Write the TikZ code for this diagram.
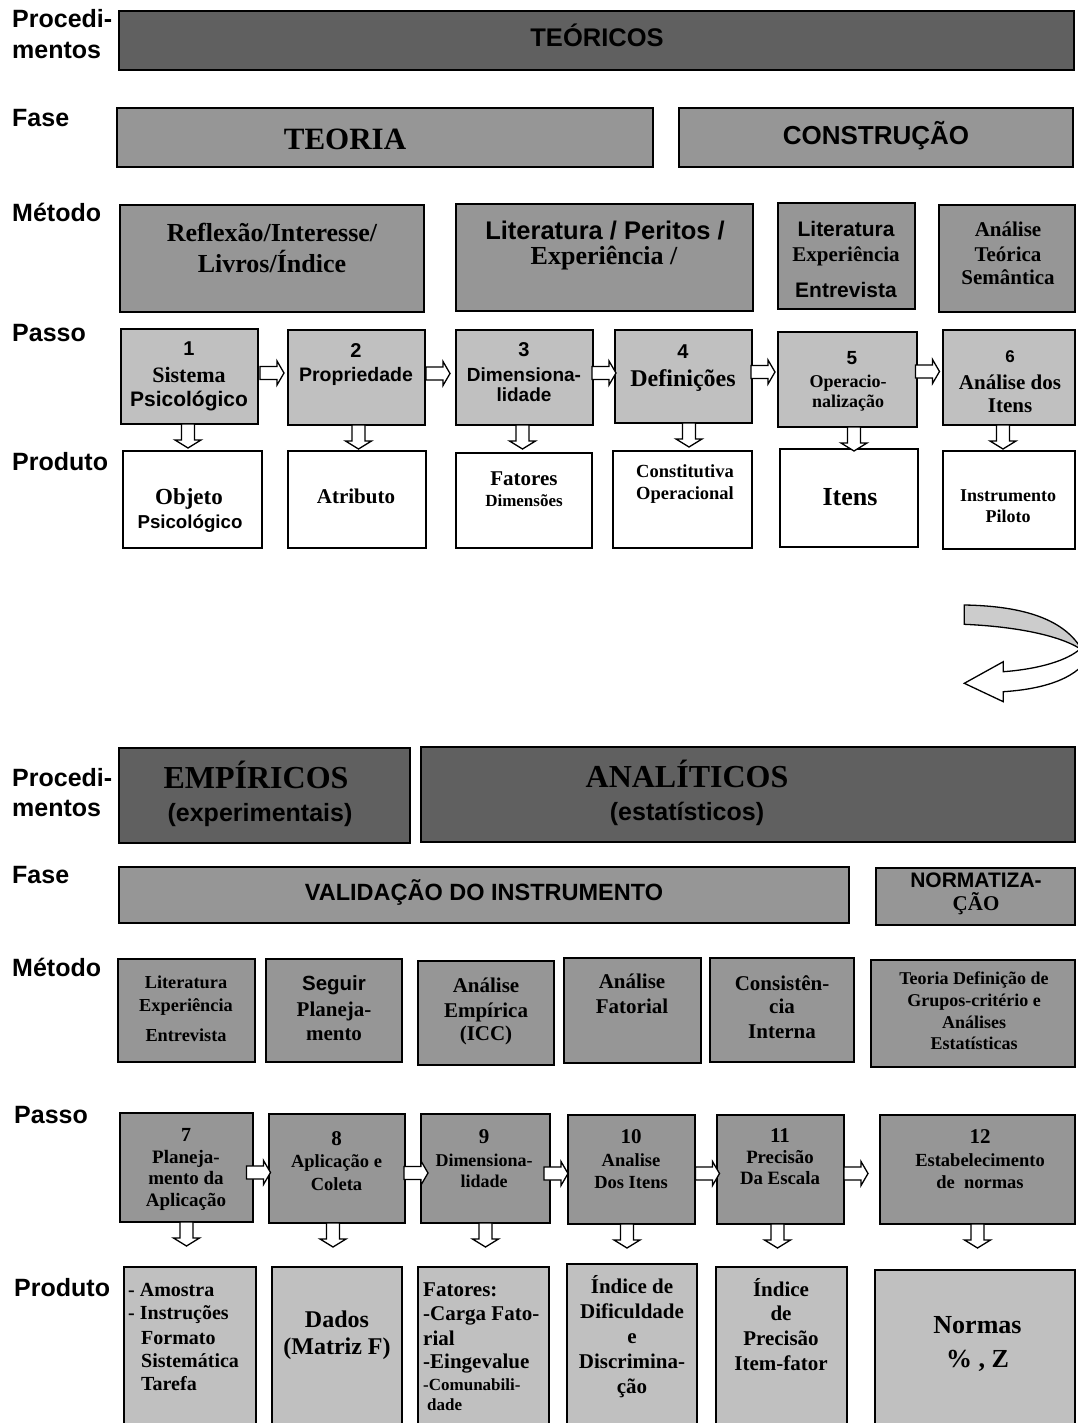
\documentclass[tikz,border=0pt]{standalone}
\usepackage{fontspec}
\setmainfont{Liberation Serif}
\setsansfont{Liberation Sans}
\usetikzlibrary{calc}
\definecolor{dk}{RGB}{96,96,96}
\definecolor{md}{RGB}{150,150,150}
\definecolor{lt}{RGB}{192,192,192}
\definecolor{cg}{RGB}{204,204,204}
\newcounter{tl}
% centred line: family, size, x, visual centre y, text
\newcommand\T[5]{\stepcounter{tl}\node[anchor=base,inner sep=0pt,font=\fontsize{#2}{#2}\selectfont#1\bfseries] (t\thetl) at (#3,{#4+0.34*#2}) {#5};}
% left aligned line: family, size, x, visual centre y, text
\newcommand\TL[5]{\stepcounter{tl}\node[anchor=base west,inner sep=0pt,font=\fontsize{#2}{#2}\selectfont#1\bfseries] (t\thetl) at (#3,{#4+0.34*#2}) {#5};}
% row label: x, baseline y, text
\newcommand\LB[3]{\stepcounter{tl}\node[anchor=base west,inner sep=0pt,font=\fontsize{25}{25}\selectfont\sffamily\bfseries] (t\thetl) at (#1,#2) {#3};}
% box: style, name, x1, y1, x2, y2
\newcommand\B[6]{\node[#1,anchor=north west,minimum width={#5-#3},minimum height={#6-#4}] (#2) at (#3,#4) {};}
% right block arrow centred between two boxes
\newcommand\RA[5]{\coordinate (#1) at ($(#2.east)!.5!(#3.west)+(#4,#5)$);
  \draw[blk] ([shift={(-12,-6.5)}]#1) -- ++(17,0) -- ++(0,-5.5) -- ++(7,12) -- ++(-7,12)
    -- ++(0,-5.5) -- ++(-17,0) -- cycle;}
% down block arrow hanging under a box
\newcommand\DA[3]{\coordinate (#1) at ($(#2.south)+(#3,0)$);
  \draw[blk] ([shift={(-6.5,0)}]#1) -- ++(13,0) -- ++(0,16) -- ++(6.5,0) -- ++(-13,8)
    -- ++(-13,-8) -- ++(6.5,0) -- cycle;}
\tikzset{
  boxbase/.style={draw=black,line width=1.8pt,inner sep=0pt,outer sep=0pt,rectangle},
  dkbox/.style={boxbase,fill=dk},
  mdbox/.style={boxbase,fill=md},
  ltbox/.style={boxbase,fill=lt},
  whbox/.style={boxbase,fill=white},
  blk/.style={draw=black,fill=white,line width=1.3pt,line join=miter},
}
\begin{document}
\begin{tikzpicture}[x=1pt,y=-1pt]
\useasboundingbox (0,0) rectangle (1077,1423);
\fill[white] (0,0) rectangle (1077,1423);

% ---------------- upper half ----------------
\LB{12}{27.7}{Procedi-}
\LB{12}{58.3}{mentos}
\LB{12}{126.7}{Fase}
\LB{12}{221.7}{Método}
\LB{12}{341.7}{Passo}
\LB{12}{470}{Produto}

\B{dkbox}{p1}{119}{11}{1074}{70}
\T\sffamily{25.5}{597}{38}{TEÓRICOS}

\B{mdbox}{f1}{117}{108}{653}{167}
\T\rmfamily{31}{345}{139}{TEORIA}
\B{mdbox}{f2}{679}{108}{1073}{167}
\T\sffamily{26}{876}{136}{CONSTRUÇÃO}

\B{mdbox}{m1}{120}{205}{424}{312}
\T\rmfamily{26}{272}{232.5}{Reflexão/Interesse/}
\T\rmfamily{26}{272}{263.5}{Livros/Índice}
\B{mdbox}{m2}{456}{204}{753}{311}
\T\sffamily{25.5}{605}{231}{Literatura / Peritos /}
\T\rmfamily{26}{604}{256}{Experiência /}
\B{mdbox}{m3}{778}{203}{915}{309}
\T\sffamily{21}{846}{229}{Literatura}
\T\rmfamily{21}{846}{254.5}{Experiência}
\T\sffamily{21}{846}{290.5}{Entrevista}
\B{mdbox}{m4}{939}{205}{1075}{312}
\T\rmfamily{21}{1008}{229.5}{Análise}
\T\rmfamily{21}{1008}{254.5}{Teórica}
\T\rmfamily{21}{1008}{277.5}{Semântica}

\B{ltbox}{s1}{121}{329}{258}{424}
\T\sffamily{20}{189}{349}{1}
\T\rmfamily{22}{189}{375.5}{Sistema}
\T\sffamily{21}{189}{399}{Psicológico}
\B{ltbox}{s2}{288}{330}{425}{425}
\T\sffamily{20}{356}{351}{2}
\T\sffamily{19.5}{356}{375}{Propriedade}
\B{ltbox}{s3}{456}{330}{593}{425}
\T\sffamily{20}{524}{350}{3}
\T\sffamily{19}{524}{375}{Dimensiona-}
\T\sffamily{19}{524}{395}{lidade}
\B{ltbox}{s4}{615}{330}{752}{423}
\T\sffamily{20}{683}{352}{4}
\T\rmfamily{24}{683}{378}{Definições}
\B{ltbox}{s5}{778}{332}{917}{427}
\T\sffamily{19}{852}{358}{5}
\T\rmfamily{18}{848}{381.7}{Operacio-}
\T\rmfamily{18}{848}{401.7}{nalização}
\B{ltbox}{s6}{943}{330}{1075}{425}
\T\sffamily{17}{1010}{357}{6}
\T\rmfamily{21}{1010}{382}{Análise dos}
\T\rmfamily{21}{1010}{405}{Itens}

\RA{a12}{s1}{s2}{-1}{-4}
\RA{a23}{s2}{s3}{-2.5}{-4}
\RA{a34}{s3}{s4}{0}{-4}
\RA{a45}{s4}{s5}{-2}{-6}
\RA{a56}{s5}{s6}{-2.5}{-7}

\B{whbox}{o1}{123}{451}{262}{548}
\T\rmfamily{23}{189}{496.7}{Objeto}
\T\sffamily{18.7}{190}{521.7}{Psicológico}
\B{whbox}{o2}{288}{451}{426}{548}
\T\rmfamily{21}{356}{496.7}{Atributo}
\B{whbox}{o3}{456}{453}{592}{548}
\T\rmfamily{21}{524}{478}{Fatores}
\T\rmfamily{17}{524}{501}{Dimensões}
\B{whbox}{o4}{613}{451}{752}{548}
\T\rmfamily{18.5}{685}{471.7}{Constitutiva}
\T\rmfamily{18.5}{685}{493.3}{Operacional}
\B{whbox}{o5}{780}{449}{918}{547}
\T\rmfamily{26}{850}{496.7}{Itens}
\B{whbox}{o6}{943}{451}{1075}{549}
\T\rmfamily{18}{1008}{495}{Instrumento}
\T\rmfamily{18}{1008}{516.7}{Piloto}

\DA{d1}{s1}{-1.5}
\DA{d2}{s2}{2}
\DA{d3}{s3}{-2}
\DA{d4}{s4}{5.5}
\DA{d5}{s5}{6.5}
\DA{d6}{s6}{-6}

% ---------------- curved turn arrow ----------------
\coordinate (turnE) at (964.3,683.3);
\draw[line width=1.3pt,fill=white,line join=miter]
  (1003.3,671.7) .. controls (1040,669) and (1068,660) .. (1080,649)
  -- (1092,652) .. controls (1080,678) and (1045,689) .. (1003.3,691.7)
  -- (1003.3,701.7) -- (turnE) -- (1003.3,661.7) -- cycle;
\draw[line width=1.3pt,fill=cg,line join=miter]
  (964.3,605) .. controls (1025,606) and (1065,620) .. (1082,650)
  .. controls (1065,638) and (1025,627) .. (964.3,624.3) -- cycle;

% ---------------- lower half ----------------
\LB{12}{786.7}{Procedi-}
\LB{12}{816.7}{mentos}
\LB{12}{883.3}{Fase}
\LB{12}{976}{Método}
\LB{14}{1123.3}{Passo}
\LB{14}{1296.7}{Produto}

\B{dkbox}{p2}{119}{748}{410}{843}
\T\rmfamily{32}{256}{778}{EMPÍRICOS}
\T\sffamily{25}{260}{813}{(experimentais)}
\B{dkbox}{p3}{421}{747}{1075}{842}
\T\rmfamily{32}{687}{777}{ANALÍTICOS}
\T\sffamily{25}{687}{812}{(estatísticos)}

\B{mdbox}{v1}{119}{867}{849}{923}
\T\sffamily{23.5}{484}{893}{VALIDAÇÃO DO INSTRUMENTO}
\B{mdbox}{v2}{876}{868}{1075}{925}
\T\sffamily{21}{976}{880}{NORMATIZA-}
\T\rmfamily{21}{976}{903.3}{ÇÃO}

\B{mdbox}{n1}{118}{959}{255}{1062}
\T\rmfamily{18.3}{186}{982.7}{Literatura}
\T\rmfamily{18.3}{186}{1005}{Experiência}
\T\rmfamily{18.3}{186}{1035}{Entrevista}
\B{mdbox}{n2}{266}{959}{402}{1062}
\T\sffamily{20.5}{334}{983.3}{Seguir}
\T\rmfamily{21}{334}{1009.3}{Planeja-}
\T\rmfamily{21}{334}{1033.3}{mento}
\B{mdbox}{n3}{418}{961}{554}{1065}
\T\rmfamily{21}{486}{985}{Análise}
\T\rmfamily{21}{486}{1010}{Empírica}
\T\rmfamily{21}{486}{1033.3}{(ICC)}
\B{mdbox}{n4}{564}{958}{701}{1063}
\T\rmfamily{21}{632}{981.7}{Análise}
\T\rmfamily{21}{632}{1006.7}{Fatorial}
\B{mdbox}{n5}{710}{958}{854}{1062}
\T\rmfamily{21}{782}{983.3}{Consistên-}
\T\rmfamily{21}{782}{1006.7}{cia}
\T\rmfamily{21}{782}{1031.7}{Interna}
\B{mdbox}{n6}{871}{960}{1075}{1067}
\T\rmfamily{18}{974}{978.3}{Teoria Definição de}
\T\rmfamily{18}{974}{1000}{Grupos-critério e}
\T\rmfamily{18}{974}{1022.7}{Análises}
\T\rmfamily{18}{974}{1043.3}{Estatísticas}

\B{mdbox}{q7}{120}{1113}{253}{1222}
\T\rmfamily{20}{186}{1135}{7}
\T\rmfamily{19}{186}{1156.7}{Planeja-}
\T\rmfamily{19}{186}{1178.3}{mento da}
\T\rmfamily{19}{186}{1200}{Aplicação}
\B{mdbox}{q8}{269}{1114}{405}{1223}
\T\rmfamily{21}{336.5}{1138}{8}
\T\rmfamily{18.5}{336.5}{1161.5}{Aplicação e}
\T\rmfamily{18.5}{336.5}{1184}{Coleta}
\B{mdbox}{q9}{421}{1114}{550}{1223}
\T\rmfamily{21}{484}{1136.7}{9}
\T\rmfamily{18}{484}{1160}{Dimensiona-}
\T\rmfamily{18}{484}{1181.7}{lidade}
\B{mdbox}{q10}{568}{1115}{695}{1224}
\T\rmfamily{21}{631}{1136.7}{10}
\T\rmfamily{18.5}{631}{1160}{Analise}
\T\rmfamily{18.5}{631}{1181.7}{Dos Itens}
\B{mdbox}{q11}{717}{1115}{844}{1224}
\T\rmfamily{21}{780}{1135}{11}
\T\rmfamily{18.8}{780}{1156.7}{Precisão}
\T\rmfamily{18.8}{780}{1178.3}{Da Escala}
\B{mdbox}{q12}{880}{1115}{1075}{1224}
\T\rmfamily{21}{980}{1136.7}{12}
\T\rmfamily{18.5}{980}{1160}{Estabelecimento}
\T\rmfamily{18.5}{980}{1181.7}{de~ normas}

\RA{a78}{q7}{q8}{-2.5}{4.5}
\RA{a89}{q8}{q9}{3}{4.5}
\RA{a910}{q9}{q10}{-3}{4.5}
\RA{a1011}{q10}{q11}{1.5}{4}
\RA{a1112}{q11}{q12}{-6}{4}

\B{ltbox}{r7}{124}{1267}{256}{1440}
\TL\rmfamily{20}{128}{1289.3}{- Amostra}
\TL\rmfamily{20}{128}{1312.7}{- Instruções}
\TL\rmfamily{20}{141}{1337.3}{Formato}
\TL\rmfamily{20}{141}{1360.7}{Sistemática}
\TL\rmfamily{20}{141}{1384}{Tarefa}
\B{ltbox}{r8}{272}{1267}{402}{1440}
\T\rmfamily{24}{337}{1319.3}{Dados}
\T\rmfamily{24}{337}{1346.7}{(Matriz F)}
\B{ltbox}{r9}{418}{1267}{549}{1440}
\TL\rmfamily{21}{423}{1289.3}{Fatores:}
\TL\rmfamily{21}{423}{1313.3}{-Carga Fato-}
\TL\rmfamily{21}{423}{1338.3}{rial}
\TL\rmfamily{21}{423}{1361.7}{-Eingevalue}
\TL\rmfamily{17}{423}{1385}{-Comunabili-}
\TL\rmfamily{17}{427}{1405}{dade}
\B{ltbox}{r10}{567}{1264}{697}{1440}
\T\rmfamily{21}{632}{1286.7}{Índice de}
\T\rmfamily{21}{632}{1311.7}{Dificuldade}
\T\rmfamily{21}{632}{1336.7}{e}
\T\rmfamily{21}{632}{1361.7}{Discrimina-}
\T\rmfamily{21}{632}{1386}{ção}
\B{ltbox}{r11}{716}{1267}{847}{1440}
\T\rmfamily{21}{781}{1289.3}{Índice}
\T\rmfamily{21}{781}{1313.3}{de}
\T\rmfamily{21}{781}{1338.3}{Precisão}
\T\rmfamily{21}{781}{1363.3}{Item-fator}
\B{ltbox}{r12}{875}{1270}{1075}{1440}
\T\rmfamily{26}{977.5}{1325}{Normas}
\T\rmfamily{26}{977.5}{1358.3}{\% , Z}

\DA{d7}{q7}{0}
\DA{d8}{q8}{-4}
\DA{d9}{q9}{0}
\DA{d10}{q10}{-4.5}
\DA{d11}{q11}{-3}
\DA{d12}{q12}{0}
\end{tikzpicture}
\end{document}
